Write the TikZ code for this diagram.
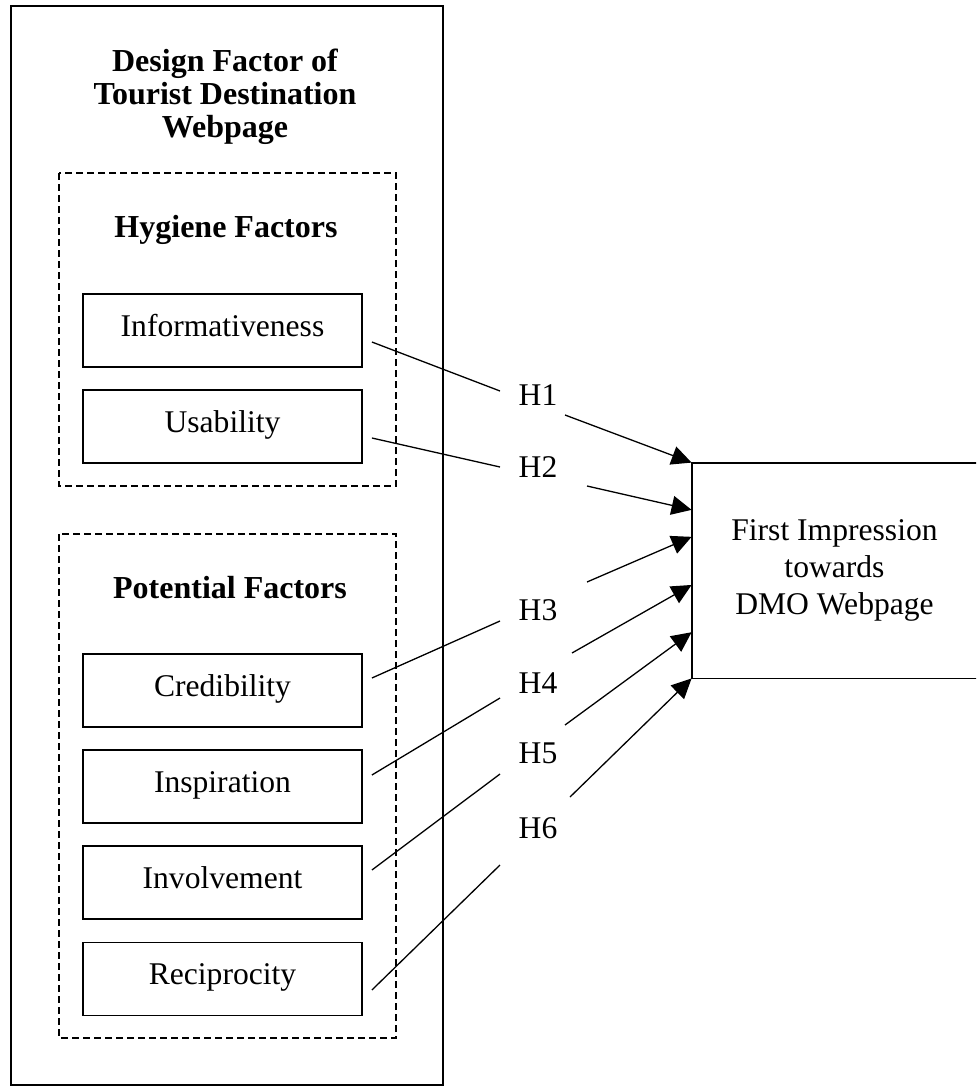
\documentclass[tikz,border=0pt]{standalone}
\usepackage{fontspec}
\setmainfont{Liberation Serif}
\usetikzlibrary{arrows.meta,calc}

\tikzset{
  factor/.style={draw, line width=0.9pt, minimum width=139.5pt, minimum height=36.5pt,
    inner sep=0pt, text height=10.5pt, text depth=5pt, font=\fontsize{15.8}{18.5}\selectfont},
  group/.style={draw, dash pattern=on 3.5pt off 2pt, line width=0.7pt},
  heading/.style={font=\bfseries\fontsize{16}{16.5}\selectfont},
  hyp/.style={font=\fontsize{15.8}{18.5}\selectfont},
  link/.style={line width=0.65pt},
  linkarrow/.style={line width=0.65pt, -{Triangle[length=10pt,width=9.5pt]}}
}

\begin{document}
\begin{tikzpicture}[x=0.5pt,y=-0.5pt]
  \useasboundingbox (0,0) rectangle (976,1086);
  \clip (0,0) rectangle (976,1086);

  % frame and the two groups
  \draw[line width=1pt] (11,6) rectangle (443,1085);
  \draw[group] (59,173) rectangle (396,486);
  \draw[group] (59,534) rectangle (396,1038);

  \node[heading, align=center] (title) at (225,97) {Design Factor of\\Tourist Destination\\Webpage};
  \node[heading] (hygiene) at (226,230) {Hygiene Factors};
  \node[heading] (potential) at (230,588) {Potential Factors};

  % factors
  \node[factor] (info) at (222.5,330.5) {Informativeness};
  \node[factor] (usab) at (222.5,426.5) {Usability};
  \node[factor] (cred) at (222.5,690.5) {Credibility};
  \node[factor] (insp) at (222.5,786.5) {Inspiration};
  \node[factor] (invol) at (222.5,882.5) {Involvement};
  \node[factor] (recip) at (222.5,979) {Reciprocity};

  % outcome, its right side runs off the page
  \node[minimum width=142.5pt, minimum height=107.5pt, align=center, hyp]
    (dmo) at (834.5,570.5) {First Impression\\towards\\DMO Webpage};
  \draw[line width=0.9pt] ([xshift=10pt]dmo.north east) -- (dmo.north west)
    -- (dmo.south west) -- ([xshift=10pt]dmo.south east);

  % hypotheses
  \node[hyp] (h1) at (538,395) {H1};
  \node[hyp] (h2) at (538,467) {H2};
  \node[hyp] (h3) at (538,610) {H3};
  \node[hyp] (h4) at (538,683) {H4};
  \node[hyp] (h5) at (538,753) {H5};
  \node[hyp] (h6) at (538,828) {H6};

  \draw[link] ([shift={(9,11.5)}]info.east) -- ([shift={(-38,-4)}]h1.center);
  \draw[link] ([shift={(9,11.5)}]usab.east) -- ([shift={(-38,0)}]h2.center);
  \draw[link] ([shift={(9,-12.5)}]cred.east) -- ([shift={(-38,11)}]h3.center);
  \draw[link] ([shift={(9,-11.5)}]insp.east) -- ([shift={(-38,15)}]h4.center);
  \draw[link] ([shift={(9,-12.5)}]invol.east) -- ([shift={(-38,21)}]h5.center);
  \draw[link] ([shift={(9,11)}]recip.east) -- ([shift={(-38,37)}]h6.center);

  \draw[linkarrow] ([shift={(27,20)}]h1.center) -- (dmo.north west);
  \draw[linkarrow] ([shift={(49,19)}]h2.center) -- ($(dmo.north west)!0.219!(dmo.south west)$);
  \draw[linkarrow] ([shift={(49,-28)}]h3.center) -- ($(dmo.north west)!0.344!(dmo.south west)$);
  \draw[linkarrow] ([shift={(34,-30)}]h4.center) -- ($(dmo.north west)!0.567!(dmo.south west)$);
  \draw[linkarrow] ([shift={(27,-28)}]h5.center) -- ($(dmo.north west)!0.786!(dmo.south west)$);
  \draw[linkarrow] ([shift={(32,-31)}]h6.center) -- (dmo.south west);

\end{tikzpicture}
\end{document}
